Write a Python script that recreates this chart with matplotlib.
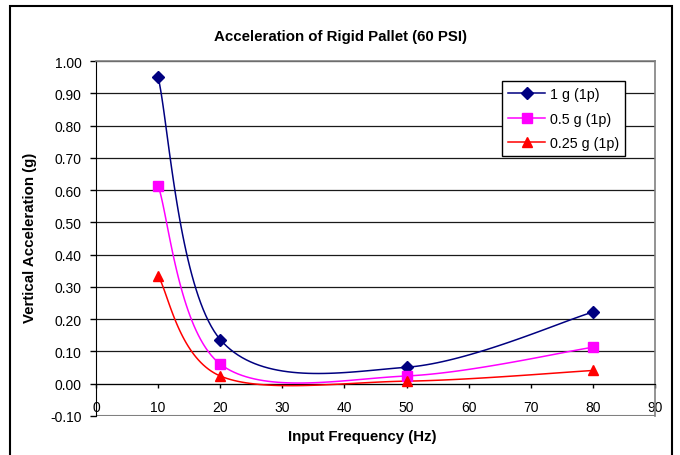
import numpy as np
import matplotlib
matplotlib.use('Agg')
import matplotlib.pyplot as plt
from matplotlib.patches import Rectangle

plt.rcParams['font.family'] = ['Liberation Sans', 'DejaVu Sans']

# dados
freq = [10, 20, 50, 80]
acc_1g = [0.95, 0.137, 0.051, 0.222]
acc_05g = [0.614, 0.061, 0.024, 0.113]
acc_025g = [0.334, 0.024, 0.008, 0.041]
labels = ['1 g (1p)', '0.5 g (1p)', '0.25 g (1p)']
x_ticks = [0, 10, 20, 30, 40, 50, 60, 70, 80, 90]
y_ticks = [-0.10, 0.00, 0.10, 0.20, 0.30, 0.40, 0.50, 0.60, 0.70, 0.80, 0.90, 1.00]


def suavizar(x, y, n=40):
    # curva suavizada estilo Excel (Bezier com pontos de controle a 1/6)
    p = np.column_stack([x, y]).astype(float)
    pts = []
    for i in range(len(p) - 1):
        a = p[i - 1] if i > 0 else p[i]
        d = p[i + 2] if i + 2 < len(p) else p[i + 1]
        c1 = p[i] + (p[i + 1] - a) / 6
        c2 = p[i + 1] - (d - p[i]) / 6
        t = np.linspace(0, 1, n)[:, None]
        seg = ((1 - t) ** 3) * p[i] + 3 * ((1 - t) ** 2) * t * c1 \
            + 3 * (1 - t) * t ** 2 * c2 + t ** 3 * p[i + 1]
        pts.append(seg if i == 0 else seg[1:])
    pts = np.vstack(pts)
    return pts[:, 0], pts[:, 1]


fig = plt.figure(figsize=(6.8, 4.56), dpi=100)
ax = fig.add_axes([96 / 680, 1 - 417 / 456, 559 / 680, 355 / 456])

# moldura do grafico
fig.patches.append(Rectangle((10 / 680, -0.02), 662 / 680, 1 - 7 / 456 + 0.02,
                             transform=fig.transFigure, fill=False,
                             edgecolor='black', linewidth=1.5))

series = [
    (acc_1g, '#000080', 'D', 6),
    (acc_05g, '#FF00FF', 's', 6.5),
    (acc_025g, '#FF0000', '^', 7.5),
]
for (vals, cor, mk, ms), lab in zip(series, labels):
    xs, ys = suavizar(freq, vals)
    ax.plot(xs, ys, color=cor, linewidth=1.1, zorder=3)
    ax.plot(freq, vals, linestyle='none', marker=mk, markersize=ms,
            color=cor, zorder=4)
    ax.plot([], [], color=cor, linewidth=1.1, marker=mk, markersize=ms, label=lab)

ax.set_xlim(0, 90)
ax.set_ylim(-0.10, 1.00)
ax.set_xticks(x_ticks)
ax.set_yticks(y_ticks)
ax.set_yticklabels(['%.2f' % v for v in y_ticks])
ax.grid(axis='y', color='#1a1a1a', linewidth=0.9, zorder=1)
ax.set_axisbelow(True)

for s in ['top', 'right']:
    ax.spines[s].set_color('#808080')
    ax.spines[s].set_linewidth(1.2)
ax.spines['left'].set_color('black')
ax.spines['bottom'].set_position(('data', 0))
ax.spines['bottom'].set_color('black')
ax.axhline(-0.10, color='#808080', linewidth=1.5, zorder=2)

ax.tick_params(axis='y', direction='out', length=4, width=1, labelsize=10, pad=6.5)
ax.tick_params(axis='x', direction='out', length=3, width=1, labelsize=10, pad=9)

fig.text(341 / 680, 1 - 37 / 456, 'Acceleration of Rigid Pallet (60 PSI)',
         ha='center', va='center', fontsize=10.8, fontweight='bold')
fig.text(30 / 680, 1 - 238 / 456, 'Vertical Acceleration (g)', rotation=90,
         ha='center', va='center', fontsize=10.8, fontweight='bold')
fig.text(362 / 680, 1 - 437 / 456, 'Input Frequency (Hz)',
         ha='center', va='center', fontsize=10.8, fontweight='bold')

leg = ax.legend(loc='upper left', bbox_to_anchor=(0.726, 0.944), fontsize=10.3,
                frameon=True, fancybox=False, edgecolor='black', framealpha=1,
                handlelength=2.6, labelspacing=0.72, borderpad=0.45,
                handletextpad=0.3, borderaxespad=0)
leg.get_frame().set_linewidth(1.0)

plt.savefig('out.png', dpi=100)
